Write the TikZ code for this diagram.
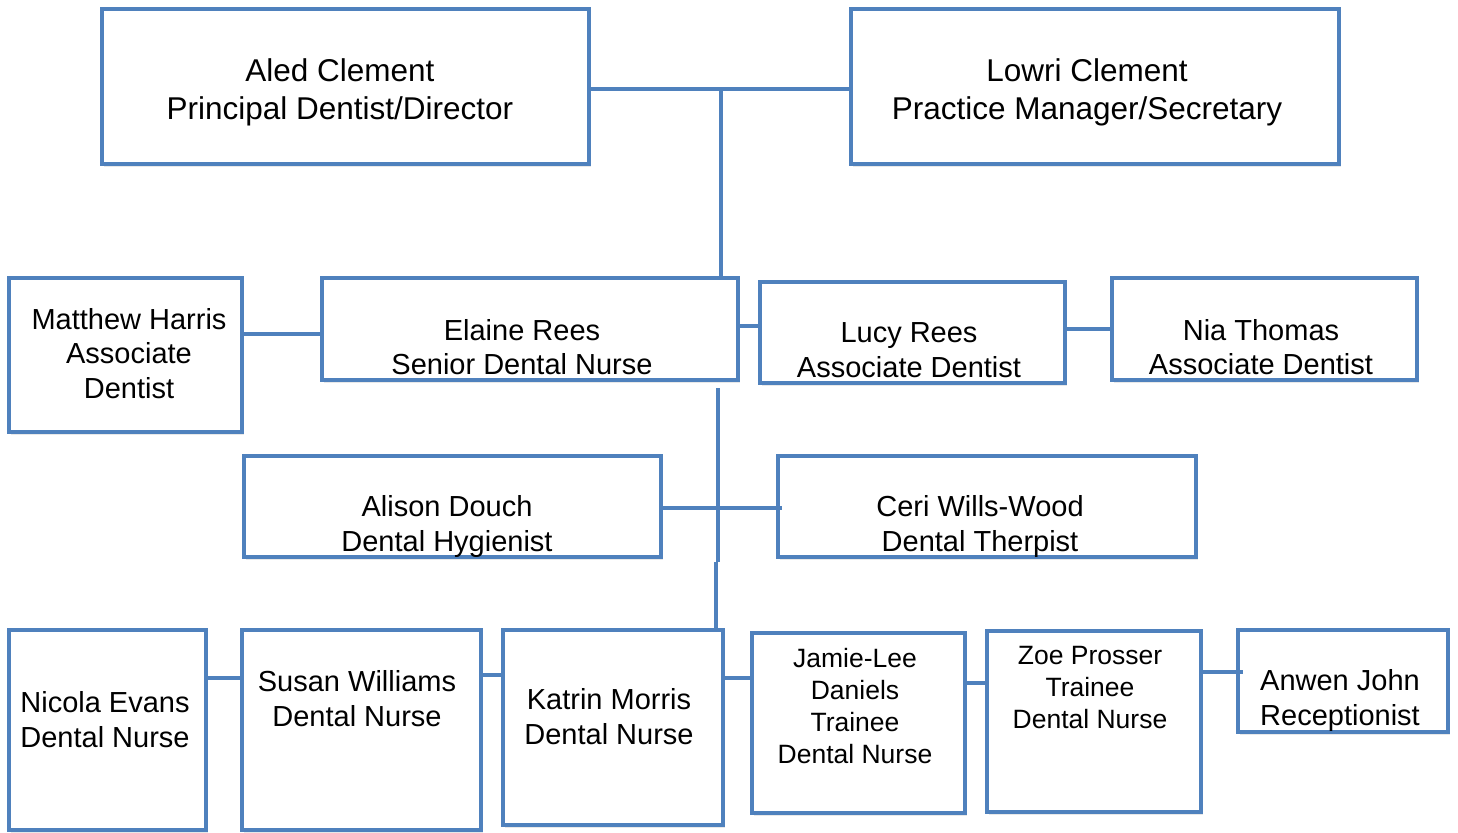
\documentclass[tikz,border=0pt]{standalone}
\usepackage{fontspec}
\setmainfont{Liberation Sans}
\usetikzlibrary{shadows}
\definecolor{obblue}{HTML}{4F81BD}
\tikzset{
  x=1pt, y=-1pt,
  box/.style={draw=obblue, line width=4.5pt, fill=white, inner sep=0pt, outer sep=0pt,
    drop shadow={opacity=0.18, shadow xshift=2pt, shadow yshift=-2.5pt}},
  link/.style={draw=obblue, line width=4.5pt},
  txtL/.style={align=center, inner sep=0pt, font=\fontsize{31.5}{38}\selectfont},
  txtM/.style={align=center, inner sep=0pt, font=\fontsize{29}{34.5}\selectfont},
  txtS/.style={align=center, inner sep=0pt, font=\fontsize{26.5}{32}\selectfont},
}
\begin{document}
\begin{tikzpicture}
\useasboundingbox[fill=white] (0,0) rectangle (1458,832);
% boxes
\node[box, minimum width=487, minimum height=155] (aled) at (345.5,86.5) {};
\node[box, minimum width=488, minimum height=155] (lowri) at (1095,86.5) {};
\node[box, minimum width=233, minimum height=154] (matthew) at (125.5,355) {};
\node[box, minimum width=416, minimum height=102] (elaine) at (530,329) {};
\node[box, minimum width=305, minimum height=101] (lucy) at (912.5,332.5) {};
\node[box, minimum width=305, minimum height=102] (nia) at (1264.5,329) {};
\node[box, minimum width=417, minimum height=101] (alison) at (452.5,506.5) {};
\node[box, minimum width=418, minimum height=101] (ceri) at (987,506.5) {};
\node[box, minimum width=197, minimum height=200] (nicola) at (107.5,730) {};
\node[box, minimum width=239, minimum height=200] (susan) at (361.5,730) {};
\node[box, minimum width=220, minimum height=195] (katrin) at (613,727.5) {};
\node[box, minimum width=213, minimum height=180] (jamie) at (858.5,723) {};
\node[box, minimum width=214, minimum height=181] (zoe) at (1094,721.5) {};
\node[box, minimum width=210, minimum height=102] (anwen) at (1343,681) {};
% texts
\node[txtL] (aledT) at (340,92.5) {Aled Clement\\Principal Dentist/Director};
\node[txtL] (lowriT) at (1087,92.5) {Lowri Clement\\Practice Manager/Secretary};
\node[txtM] (matthewT) at (129,353.5) {Matthew Harris\\Associate\\Dentist};
\node[txtM] (elaineT) at (522,347) {Elaine Rees\\Senior Dental Nurse};
\node[txtM] (lucyT) at (909,350) {Lucy Rees\\Associate Dentist};
\node[txtM] (niaT) at (1261,347) {Nia Thomas\\Associate Dentist};
\node[txtM] (alisonT) at (447,526.5) {Alison Douch\\Dental Hygienist};
\node[txtM] (ceriT) at (980,526.5) {Ceri Wills-Wood\\Dental Therpist};
\node[txtM] (nicolaT) at (105,719.5) {Nicola Evans\\Dental Nurse};
\node[txtM] (susanT) at (357,698.5) {Susan Williams\\Dental Nurse};
\node[txtM] (katrinT) at (609,716.5) {Katrin Morris\\Dental Nurse};
\node[txtS] (jamieT) at (855,706.5) {Jamie-Lee\\Daniels\\Trainee\\Dental Nurse};
\node[txtS] (zoeT) at (1090,688) {Zoe Prosser\\Trainee\\Dental Nurse};
\node[txtM] (anwenT) at (1340,700.5) {Anwen John\\Receptionist};
% junctions
\coordinate (j1) at (721,89);
\coordinate (j2a) at (718,388);
\coordinate (j2b) at (718,562);
\coordinate (j2c) at (716,562);
% connectors
\draw[link] (aled.east |- j1) -- (lowri.west |- j1);
\draw[link] (j1) -- (j1 |- elaine.north);
\draw[link] ([yshift=-5pt]matthew.east |- elaine.center) -- ([yshift=-5pt]elaine.west);
\draw[link] ([yshift=3pt]elaine.east) -- ([yshift=3pt]elaine.east -| lucy.west);
\draw[link] (lucy.east |- nia.center) -- (nia.west);
\draw[link] (j2a) -- (j2b);
\draw[link] (j2c) -- (j2c |- katrin.north);
\draw[link] ([yshift=-1.5pt]alison.east) -- ([yshift=-1.5pt,xshift=4pt]ceri.west);
\draw[link] ([yshift=52pt]nicola.east) -- ([yshift=52pt]nicola.east -| susan.west);
\draw[link] ([yshift=55pt]susan.east) -- ([yshift=55pt]susan.east -| katrin.west);
\draw[link] ([yshift=49.5pt]katrin.east) -- ([yshift=49.5pt]katrin.east -| jamie.west);
\draw[link] ([yshift=40pt]jamie.east) -- ([yshift=40pt]jamie.east -| zoe.west);
\draw[link] ([yshift=49.5pt]zoe.east) -- ([yshift=49.5pt,xshift=5pt]zoe.east -| anwen.west);
\end{tikzpicture}
\end{document}
